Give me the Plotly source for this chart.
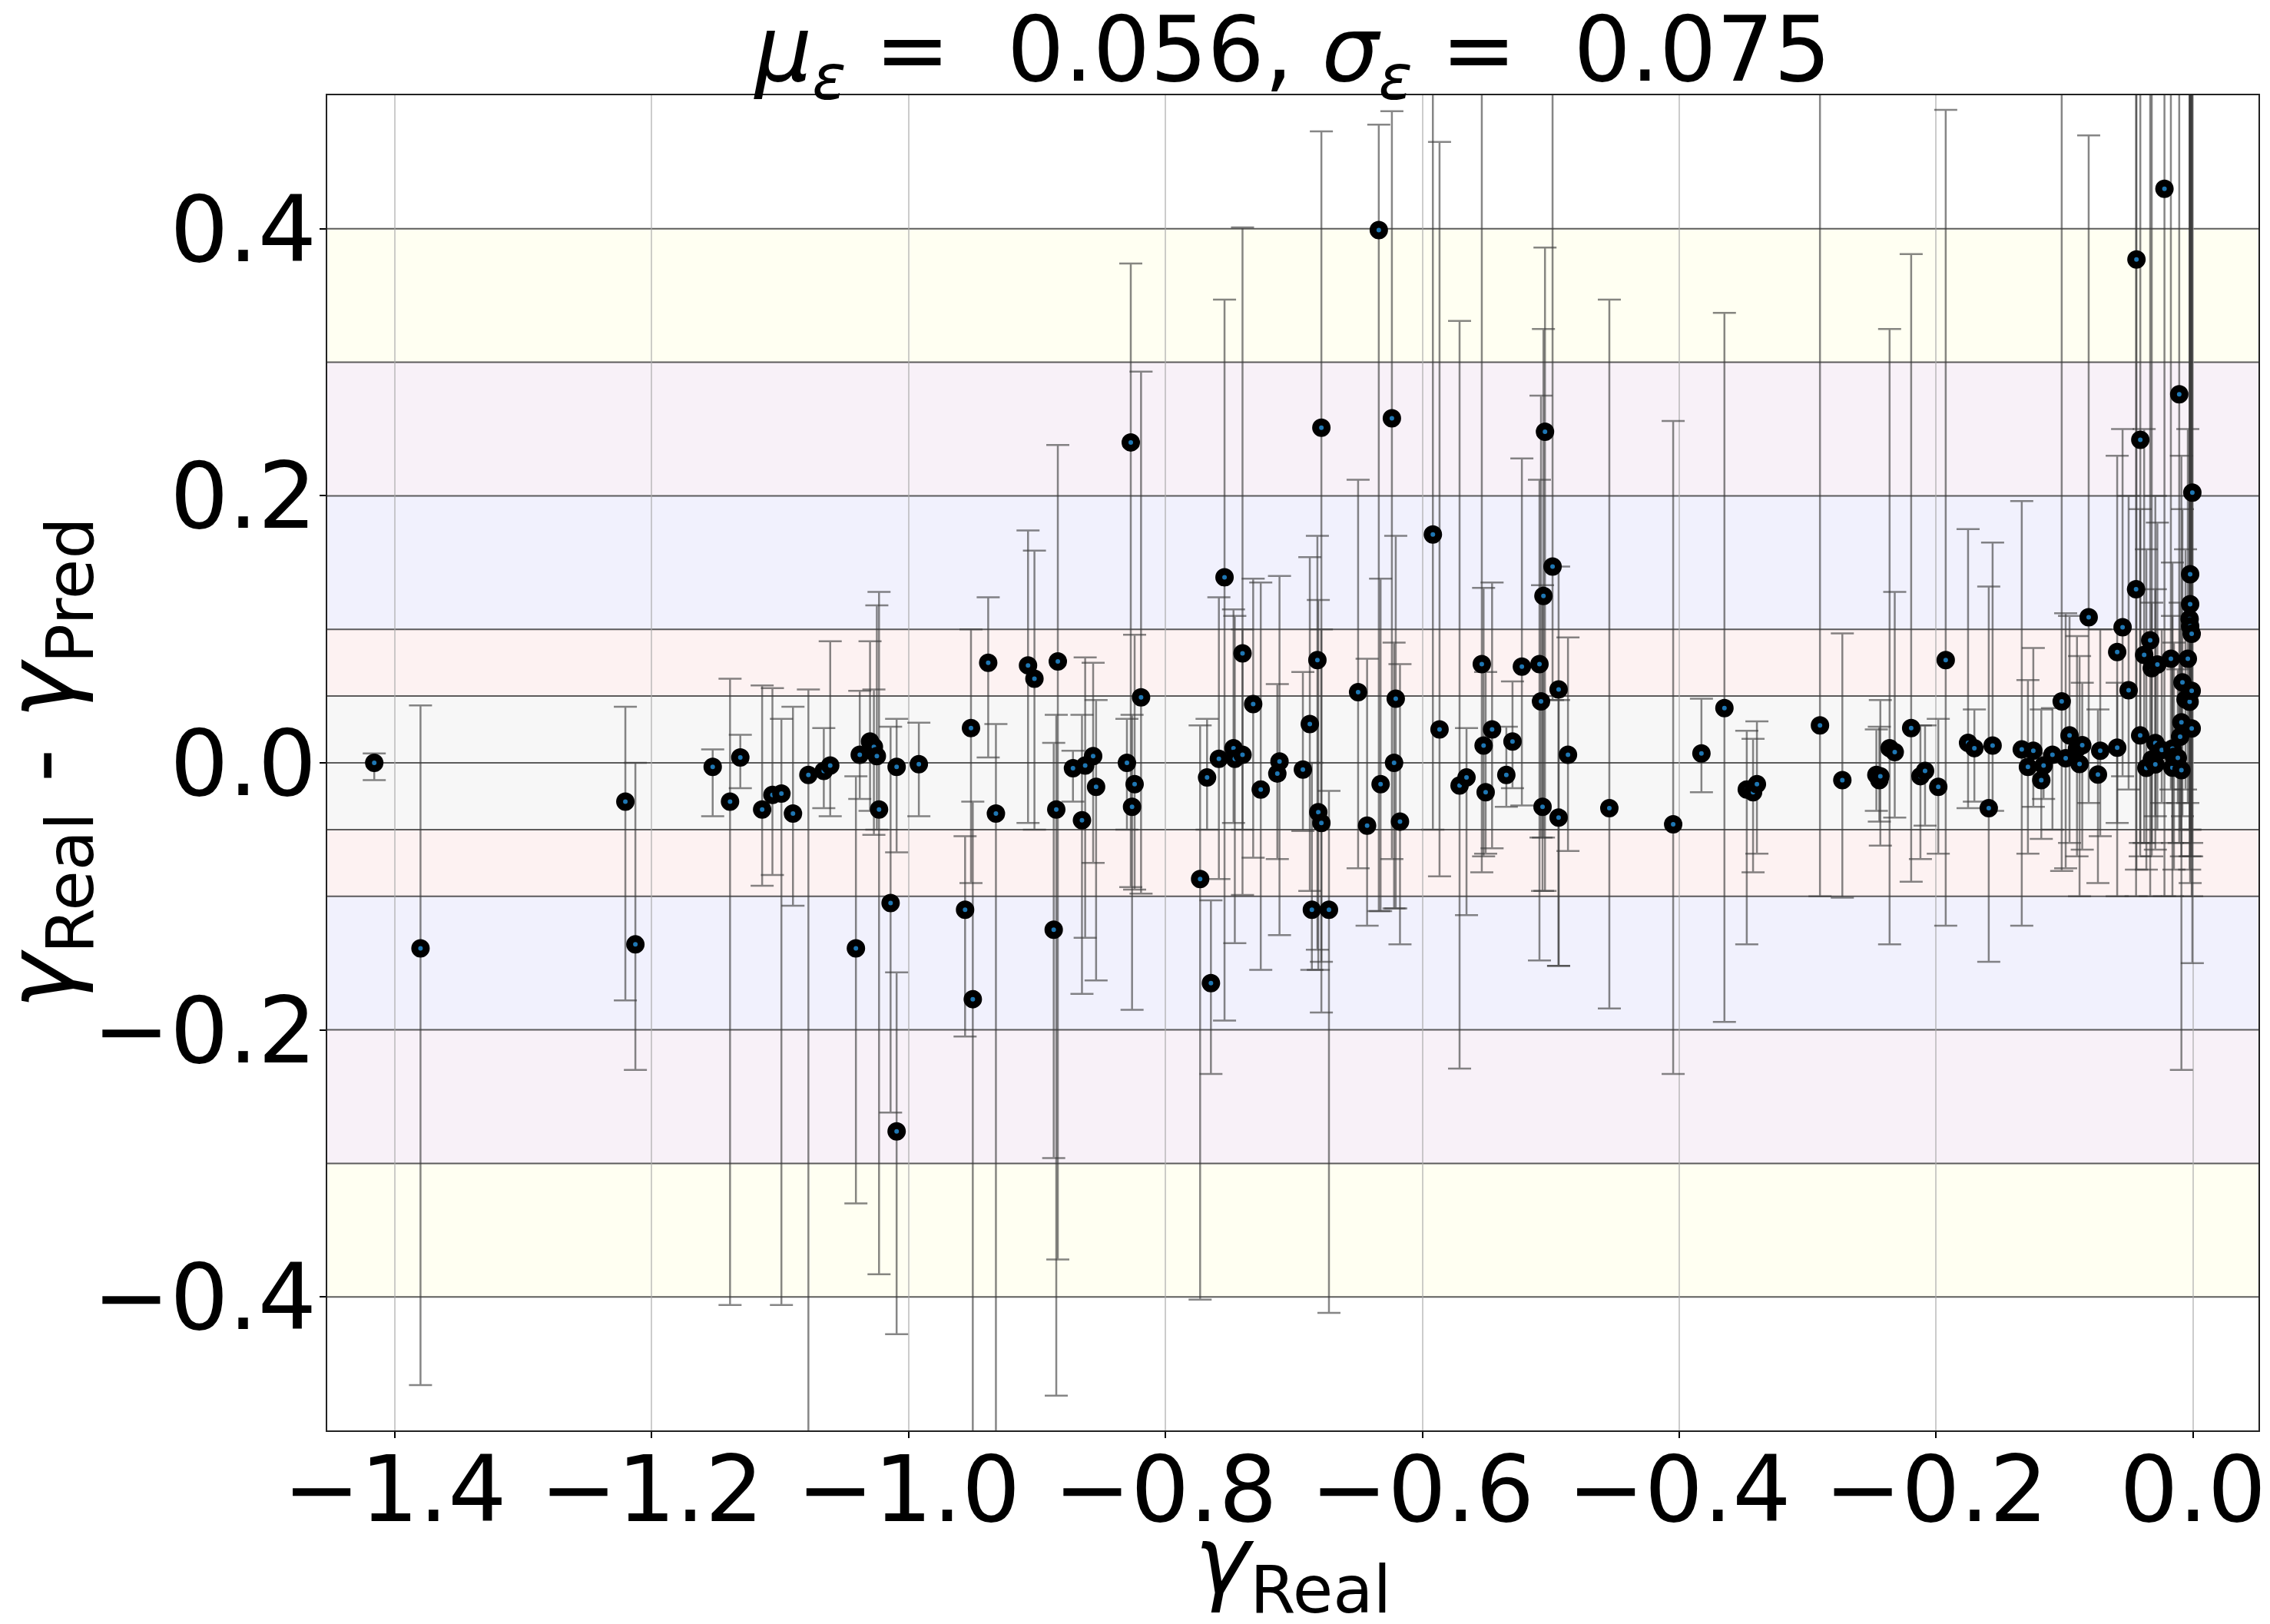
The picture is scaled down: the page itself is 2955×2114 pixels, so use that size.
import numpy as np
import plotly.graph_objects as go

# ── data ────────────────────────────────────────────────────────────────────
gamma_real = [
    -1.416, -1.380, -1.2205, -1.2127, -1.1525, -1.139, -1.131, -1.114, -1.106, -1.099,
    -1.090, -1.078, -1.066, -1.061, -1.041, -1.038, -1.030, -1.027, -1.0247, -1.023,
    -1.014, -1.0093, -1.0093, -0.992,
    -0.956, -0.9514, -0.950, -0.938, -0.932, -0.907, -0.902, -0.8838, -0.885, -0.887,
    -0.872, -0.865, -0.8625, -0.8563, -0.854, -0.830, -0.827, -0.824, -0.826, -0.819,
    -0.773, -0.7676, -0.7646, -0.7584, -0.754, -0.747, -0.746, -0.740, -0.740, -0.7317,
    -0.7258,
    -0.7112, -0.7129, -0.693, -0.6876, -0.6817, -0.6786, -0.681, -0.6786, -0.686, -0.6727,
    -0.650, -0.643, -0.6339, -0.6325, -0.6237, -0.6207, -0.622, -0.6174, -0.5918, -0.5866,
    -0.571, -0.5656, -0.5537, -0.5523, -0.5507, -0.5457, -0.5346, -0.5298, -0.5225, -0.5088,
    -0.5045, -0.5057, -0.5076, -0.5064, -0.4986, -0.4939, -0.4939, -0.4866, -0.4544, -0.4047,
    -0.3827, -0.3648,
    -0.3474, -0.3425, -0.3395, -0.2904, -0.273, -0.2465, -0.2442, -0.2434, -0.2362, -0.2322,
    -0.2194, -0.2122, -0.2086, -0.1983, -0.1925, -0.1751, -0.1702, -0.159, -0.156,
    -0.1333, -0.1285, -0.1243, -0.1181, -0.1163, -0.1094, -0.1022, -0.0991, -0.0961, -0.0903,
    -0.0883, -0.0862, -0.0812, -0.0740, -0.0722, -0.059, -0.059, -0.0548, -0.0501, -0.0443,
    -0.044, -0.041, -0.0411, -0.038, -0.0363, -0.0333, -0.0321, -0.0321, -0.0293, -0.0293,
    -0.0277, -0.0243, -0.0222, -0.0172, -0.016, -0.016, -0.0148, -0.0118, -0.0107, -0.010,
    -0.009, -0.009, -0.0082, -0.0058, -0.004, -0.0026, -0.0026, -0.0022, -0.0022, -0.0022,
    -0.001, -0.001, -0.001, -0.0005,
]
residual = [
    0.000, -0.139, -0.029, -0.136, -0.003, -0.029, 0.004, -0.035, -0.024, -0.023,
    -0.038, -0.009, -0.006, -0.002, -0.139, 0.006, 0.016, 0.012, 0.005, -0.035,
    -0.105, -0.276, -0.003, -0.001,
    -0.110, 0.026, -0.177, 0.075, -0.038, 0.073, 0.063, 0.076, -0.035, -0.125,
    -0.004, -0.043, -0.002, 0.005, -0.018, 0.000, 0.240, -0.016, -0.033, 0.049,
    -0.087, -0.011, -0.165, 0.003, 0.139, 0.011, 0.003, 0.006, 0.082, 0.044,
    -0.020,
    0.001, -0.008, -0.005, 0.029, 0.077, 0.251, -0.037, -0.045, -0.110, -0.110,
    0.053, -0.047, 0.399, -0.016, 0.258, 0.048, 0.000, -0.044, 0.171, 0.025,
    -0.017, -0.011, 0.074, 0.013, -0.022, 0.025, -0.009, 0.016, 0.072, 0.074,
    0.248, 0.125, 0.046, -0.033, 0.147, 0.055, -0.041, 0.006, -0.034, -0.046,
    0.007, 0.041,
    -0.020, -0.022, -0.016, 0.028, -0.013, -0.009, -0.013, -0.010, 0.011, 0.008,
    0.026, -0.010, -0.006, -0.018, 0.077, 0.015, 0.011, -0.034, 0.013,
    0.010, -0.003, 0.009, -0.013, -0.002, 0.006, 0.046, 0.0035, 0.0205, 0.0107,
    -0.0008, 0.0132, 0.109, -0.0088, 0.009, 0.0113, 0.083, 0.1016, 0.0544, 0.130,
    0.377, 0.242, 0.0205, 0.0809, -0.0038, 0.0918, 0.0709, 0.0025, 0.0148, -0.0011,
    0.0736, 0.0096, 0.430, 0.078, 0.0107, -0.0036, 0.0044, 0.0038, 0.276, 0.0196,
    0.0303, -0.0054, 0.0602, 0.0475, 0.078, 0.0458, 0.1077, 0.1412, 0.1188, 0.1023,
    0.0966, 0.0539, 0.0257, 0.2024,
]
# lower / upper ends of each error bar
bar_low = [
    -0.013, -0.466, -0.178, -0.230, -0.040, -0.406, -0.019, -0.092, -0.084, -0.406,
    -0.107, -0.600, -0.034, -0.040, -0.330, -0.027, -0.036, -0.054, -0.050, -0.383,
    -0.262, -0.428, -0.067, -0.040,
    -0.205, -0.090, -0.600, 0.004, -0.600, -0.045, -0.050, -0.372, -0.474, -0.296,
    -0.029, -0.173, -0.131, -0.075, -0.163, -0.050, -0.093, -0.095, -0.185, -0.098,
    -0.402, -0.050, -0.233, -0.087, -0.193, -0.045, -0.135, -0.050, -0.099, -0.071,
    -0.155,
    -0.129, -0.072, -0.051, -0.096, -0.140, -0.187, -0.155, -0.149, -0.155, -0.412,
    -0.079, -0.122, -0.111, -0.111, -0.072, -0.109, -0.109, -0.136, -0.050, -0.085,
    -0.229, -0.114, -0.082, -0.070, -0.068, -0.064, -0.033, -0.019, -0.032, -0.148,
    -0.096, -0.056, -0.056, -0.096, 0.047, -0.152, -0.152, -0.066, -0.184, -0.233,
    -0.022, -0.194,
    -0.136, -0.082, -0.068, -0.100, -0.101, -0.036, -0.044, -0.062, -0.136, -0.041,
    -0.089, -0.072, -0.047, -0.068, -0.122, -0.034, -0.029, -0.149, -0.036,
    -0.122, -0.068, -0.033, -0.057, -0.027, -0.050, -0.081, -0.079, -0.060, -0.070,
    -0.100, -0.065, -0.030, -0.090, -0.055, -0.100, -0.045, -0.010, -0.020, -0.100,
    -0.080, -0.060, -0.070, -0.060, -0.080, -0.100, -0.070, -0.060, -0.040, -0.065,
    -0.050, -0.030, -0.100, -0.020, -0.060, -0.100, -0.080, -0.030, -0.060, -0.050,
    -0.230, -0.070, -0.040, -0.020, -0.030, -0.080, -0.050, -0.050, -0.070, -0.090,
    -0.070, -0.100, -0.060, -0.150,
]
bar_high = [
    0.007, 0.043, 0.042, 0.000, 0.010, 0.063, 0.021, 0.058, 0.056, 0.033,
    0.042, 0.055, 0.026, 0.091, -0.010, 0.054, 0.091, 0.055, 0.118, 0.128,
    0.027, -0.157, 0.033, 0.030,
    -0.055, 0.100, -0.029, 0.124, 0.029, 0.174, 0.159, 0.238, 0.036, 0.015,
    0.009, 0.036, 0.079, 0.075, 0.047, 0.033, 0.374, 0.096, 0.036, 0.293,
    0.028, 0.033, -0.103, 0.124, 0.347, 0.115, 0.110, 0.100, 0.401, 0.138,
    0.135,
    0.140, 0.059, 0.068, 0.154, 0.170, 0.473, 0.122, 0.100, 0.000, -0.021,
    0.212, 0.078, 0.478, 0.138, 0.488, 0.170, 0.090, 0.074, 0.600, 0.465,
    0.331, 0.026, 0.600, 0.131, 0.068, 0.135, 0.027, 0.061, 0.228, 0.212,
    0.386, 0.325, 0.275, 0.133, 0.600, 0.147, 0.047, 0.094, 0.347, 0.256,
    0.048, 0.337,
    0.024, 0.018, 0.031, 0.600, 0.097, 0.025, 0.027, 0.047, 0.325, 0.128,
    0.381, 0.028, 0.028, 0.033, 0.489, 0.175, 0.040, 0.132, 0.165,
    0.196, 0.062, 0.086, 0.040, 0.007, 0.041, 0.600, 0.112, 0.110, 0.095,
    0.080, 0.060, 0.470, 0.040, 0.100, 0.060, 0.230, 0.250, 0.200, 0.600,
    0.600, 0.600, 0.190, 0.250, 0.160, 0.600, 0.600, 0.120, 0.200, 0.130,
    0.180, 0.100, 0.600, 0.600, 0.110, 0.150, 0.090, 0.070, 0.600, 0.120,
    0.230, 0.080, 0.190, 0.160, 0.250, 0.600, 0.600, 0.600, 0.600, 0.600,
    0.600, 0.600, 0.600, 0.600,
]

mu_eps, sigma_eps = "0.056", "0.075"

x_ticks = [-1.4, -1.2, -1.0, -0.8, -0.6, -0.4, -0.2, 0.0]
x_ticklabels = ["\u22121.4", "\u22121.2", "\u22121.0", "\u22120.8",
                "\u22120.6", "\u22120.4", "\u22120.2", "0.0"]
y_ticks = [-0.4, -0.2, 0.0, 0.2, 0.4]
y_ticklabels = ["\u22120.4", "\u22120.2", "0.0", "0.2", "0.4"]

# tolerance bands (lower, upper, fill)
bands = [
    (0.3, 0.4, "rgb(255,255,242)"), (-0.4, -0.3, "rgb(255,255,242)"),
    (0.2, 0.3, "rgb(248,241,248)"), (-0.3, -0.2, "rgb(248,241,248)"),
    (0.1, 0.2, "rgb(241,241,253)"), (-0.2, -0.1, "rgb(241,241,253)"),
    (0.05, 0.1, "rgb(253,242,242)"), (-0.1, -0.05, "rgb(253,242,242)"),
    (-0.05, 0.05, "rgb(247,247,247)"),
]
band_lines = [0.4, 0.3, 0.2, 0.1, 0.05, 0.0, -0.05, -0.1, -0.2, -0.3, -0.4]

# ── figure ──────────────────────────────────────────────────────────────────
x = np.array(gamma_real)
y = np.array(residual)
err_plus = np.array(bar_high) - y
err_minus = y - np.array(bar_low)

FONT = "DejaVu Sans"
fig = go.Figure()

fig.add_trace(go.Scatter(
    x=x, y=y, mode="markers",
    marker=dict(size=15, color="#1f77b4", line=dict(color="black", width=9)),
    error_y=dict(type="data", symmetric=False, array=err_plus, arrayminus=err_minus,
                 color="rgba(60,60,60,0.62)", thickness=2.5, width=15),
    showlegend=False,
))

shapes = []
for lo, hi, col in bands:
    shapes.append(dict(type="rect", xref="paper", yref="y", x0=0, x1=1, y0=lo, y1=hi,
                       fillcolor=col, line=dict(width=0), layer="below"))
for yl in band_lines:
    shapes.append(dict(type="line", xref="paper", yref="y", x0=0, x1=1, y0=yl, y1=yl,
                       line=dict(color="rgba(40,40,40,0.75)", width=2), layer="below"))

title_txt = (f"<i>\u03bc</i><sub><i>\u03b5</i></sub> =\u00a0 {mu_eps}, "
             f"<i>\u03c3</i><sub><i>\u03b5</i></sub> =\u00a0 {sigma_eps}")

# the page body adds an 8px offset, so the figure is 8px smaller than the window
fig.update_layout(
    width=2947, height=2106,
    margin=dict(l=418, r=15, t=116, b=252),
    paper_bgcolor="white", plot_bgcolor="white",
    font=dict(family=FONT, color="black", size=120),
    shapes=shapes,
    title=dict(text=title_txt, x=0.5684, xanchor="center", yref="container",
               y=0.993, yanchor="top", font=dict(family=FONT, size=117)),
    xaxis=dict(
        range=[-1.4526, 0.051], tickvals=x_ticks, ticktext=x_ticklabels,
        tickfont=dict(size=120), ticks="outside", ticklen=8, tickwidth=2, tickcolor="black",
        ticklabelstandoff=-36,
        showgrid=True, gridcolor="rgba(170,170,170,0.6)", gridwidth=1.5,
        zeroline=False, showline=True, linecolor="#222", linewidth=2, mirror=True,
        automargin=False, layer="below traces",
    ),
    yaxis=dict(
        range=[-0.5, 0.5], tickvals=y_ticks, ticktext=y_ticklabels,
        tickfont=dict(size=120), ticks="outside", ticklen=8, tickwidth=2, tickcolor="black",
        ticklabelstandoff=-20,
        showgrid=False, zeroline=False, showline=True, linecolor="#222", linewidth=2,
        mirror=True, automargin=False,
    ),
    annotations=[
        dict(text="<i>\u03b3</i><sub>Real</sub>", xref="paper", yref="paper",
             x=0.5, y=-0.055, xanchor="center", yanchor="top", showarrow=False,
             font=dict(size=122)),
        dict(text="<i>\u03b3</i><sub>Real</sub> - <i>\u03b3</i><sub>Pred</sub>",
             xref="paper", yref="paper", x=-0.145, y=0.5, xanchor="center",
             yanchor="middle", textangle=-90, showarrow=False, font=dict(size=122)),
    ],
)

fig.write_html("out.html")
